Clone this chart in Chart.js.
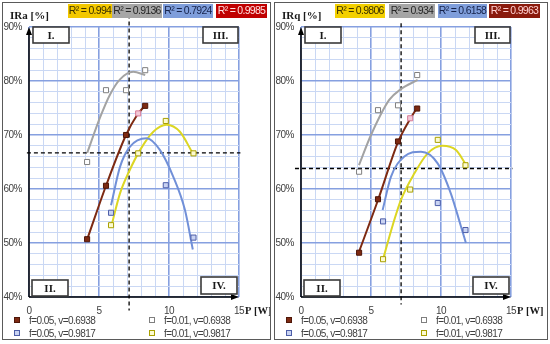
<!DOCTYPE html>
<html>
<head>
<meta charset="utf-8">
<script src="https://cdn.jsdelivr.net/npm/chart.js@4.4.1/dist/chart.umd.min.js"></script>
<style>
  html, body { margin: 0; padding: 0; background: #fff; }
  body { width: 550px; height: 344px; position: relative; overflow: hidden; }
  .panel { position: absolute; top: 2px; height: 336px; border: 1px solid #5a5a5a; }
  #left { left: 2px; width: 267px; }
  #right { left: 274px; width: 272px; }
  canvas { display: block; }
</style>
</head>
<body>
<div class="panel" id="left"><canvas id="chartIRa" width="267" height="336"></canvas></div>
<div class="panel" id="right"><canvas id="chartIRq" width="272" height="336"></canvas></div>
<script>
// P [W] of the measurement points
const pLowV = [4.15, 5.5, 6.93, 8.3];      // v=0.6938
const pHighV = [5.86, 7.8, 9.77, 11.75];   // v=0.9817
const pExtra = [7.8];

// IRa [%] measured
const iraRed = [50.7, 60.6, 70.0, 75.4];
const iraGray = [65.0, 78.3, 78.3, 82.0];
const iraBlue = [55.6, null, 60.7, 51.0];
const iraYellow = [53.3, 66.6, 72.6, 66.6];
const iraExtra = [74.0];

// IRq [%] measured
const irqRed = [48.2, 58.1, 68.8, 74.9];
const irqGray = [63.2, 74.6, 75.5, 81.1];
const irqBlue = [54.0, null, 57.4, 52.4];
const irqYellow = [47.0, 59.9, 69.1, 64.4];
const irqExtra = [73.1];

// trend curves [P, value]
const traRed = [[4.16, 50.7], [5.5, 60.6], [6.93, 70.0], [7.7, 73.6], [8.3, 75.5]];
const traGray = [[4.16, 66.7], [5.07, 73.2], [5.79, 77.5], [6.5, 80.3], [7.45, 81.7], [8.3, 81.1]];
const traBlue = [[5.86, 57.0], [6.5, 64.1], [7.2, 67.8], [8.4, 69.4], [9.36, 67.2], [10.3, 62.3], [11.14, 56.1], [11.7, 48.8]];
const traYellow = [[5.9, 53.3], [6.5, 59.2], [7.14, 63.2], [7.93, 67.2], [8.88, 70.6], [9.83, 71.9], [10.78, 70.6], [11.7, 66.6]];

const trqRed = [[4.12, 48.2], [5.52, 58.1], [6.95, 68.8], [7.8, 73.0], [8.29, 75.0]];
const trqGray = [[4.14, 64.4], [5.0, 70.0], [6.3, 76.5], [7.14, 78.5], [8.33, 80.2]];
const trqBlue = [[5.83, 56.1], [6.43, 62.3], [7.38, 66.0], [8.57, 66.9], [9.76, 64.75], [10.7, 59.2], [11.4, 53.3], [11.78, 50.0]];
const trqYellow = [[5.86, 47.0], [6.55, 53.3], [7.14, 58.0], [8.1, 62.9], [9.05, 66.6], [10.1, 68.0], [11.07, 67.2], [11.74, 64.7]];

// dashed reference lines
const pOpt = 7.15;
const iraRef = 66.7;
const irqRef = 63.8;

// R2 labels
const r2Ira = ['0.994', '0.9136', '0.7924', '0.9985'];
const r2Irq = ['0.9806', '0.934', '0.6158', '0.9963'];

const legendLabels = ['f=0.05, v=0.6938', 'f=0.01, v=0.6938', 'f=0.05, v=0.9817', 'f=0.01, v=0.9817'];
const quadrants = ['I.', 'II.', 'III.', 'IV.'];
const xTicks = [0, 5, 10, 15];

const SANS = "'Liberation Sans', Arial, sans-serif";
const SERIF = "'Liberation Serif', 'DejaVu Serif', serif";

const RED = '#7d2a12', GRAY = '#a3a3a3', BLUE = '#7190d8', YEL = '#dcd623';

const markerStyles = [
    { bg: '#7d2a12', border: '#4e1608' },
    { bg: '#ffffff', border: '#7f7f7f' },
    { bg: '#c9d3f2', border: '#4d5ea8' },
    { bg: '#fdfbd0', border: '#a9a000' }
];

function pts(xs, ys) {
    const out = [];
    xs.forEach(function(x, i) { if (ys[i] !== null) out.push({ x: x, y: ys[i] }); });
    return out;
}
function pairs(arr) {
    return arr.map(function(p) { return { x: p[0], y: p[1] }; });
}

const decoPlugin = {
    id: 'panelDeco',
    beforeDraw(chart) {
        // narrower text, closer to the original Calibri look
        chart.ctx.letterSpacing = '-0.5px';
    },
    afterDatasetsDraw(chart, args, o) {
        const ctx = chart.ctx;
        const a = chart.chartArea;
        ctx.save();

        // axes with arrows
        ctx.strokeStyle = '#000';
        ctx.fillStyle = '#000';
        ctx.lineWidth = 1.5;
        ctx.beginPath();
        ctx.moveTo(a.left, a.bottom); ctx.lineTo(a.left, a.top + 6);
        ctx.moveTo(a.left, a.bottom); ctx.lineTo(a.right - 6, a.bottom);
        ctx.stroke();
        ctx.beginPath();
        ctx.moveTo(a.left, a.top); ctx.lineTo(a.left - 3, a.top + 8); ctx.lineTo(a.left + 3, a.top + 8);
        ctx.closePath(); ctx.fill();
        ctx.beginPath();
        ctx.moveTo(a.right, a.bottom); ctx.lineTo(a.right - 8, a.bottom - 3); ctx.lineTo(a.right - 8, a.bottom + 3);
        ctx.closePath(); ctx.fill();

        // quadrant boxes
        const qb = [
            [a.left + 4, a.top, 36, 16],
            [a.left + 3, a.bottom - 17, 36, 16],
            [a.right - 36, a.top, 35, 16],
            [a.right - 38, a.bottom - 20, 36, 17]
        ];
        ctx.letterSpacing = '0px';
        ctx.font = 'bold 11px ' + SERIF;
        ctx.textAlign = 'center';
        ctx.textBaseline = 'middle';
        qb.forEach(function(b, i) {
            ctx.fillStyle = '#fff';
            ctx.fillRect(b[0], b[1], b[2], b[3]);
            ctx.strokeStyle = '#3a3a3a';
            ctx.lineWidth = 1.6;
            ctx.strokeRect(b[0], b[1], b[2], b[3]);
            ctx.fillStyle = '#1a1a1a';
            ctx.fillText(quadrants[i], b[0] + b[2] / 2, b[1] + b[3] / 2 + 1);
        });

        // axis titles
        ctx.textAlign = 'left';
        ctx.font = 'bold 11px ' + SERIF;
        ctx.fillStyle = '#1a1a1a';
        ctx.fillText(o.yTitle, 7, 13);
        ctx.font = 'bold 10.5px ' + SERIF;
        ctx.fillText('P [W]', a.right + 6, a.bottom + 14);

        // R2 boxes
        ctx.letterSpacing = '-0.7px';
        ctx.font = '10.5px ' + SANS;
        ctx.textAlign = 'center';
        o.r2Boxes.forEach(function(b, i) {
            ctx.fillStyle = b.bg;
            ctx.fillRect(b.x, 1, b.w, 14);
            ctx.fillStyle = b.fg;
            ctx.fillText('R\u00B2 = ' + o.r2[i], b.x + b.w / 2, 8.5);
        });

        // legend
        ctx.letterSpacing = '-0.55px';
        ctx.font = '10px ' + SANS;
        ctx.textAlign = 'left';
        const cols = [a.left - 12, a.left + 123];
        const rows = [a.bottom + 23, a.bottom + 36];
        const order = [[0, 0, 0], [1, 1, 0], [2, 0, 1], [3, 1, 1]];
        order.forEach(function(it) {
            const m = markerStyles[it[0]];
            const mx = cols[it[1]], my = rows[it[2]];
            ctx.fillStyle = m.bg;
            ctx.fillRect(mx - 2.5, my - 2.5, 5, 5);
            ctx.strokeStyle = m.border;
            ctx.lineWidth = 1;
            ctx.strokeRect(mx - 2.5, my - 2.5, 5, 5);
            ctx.fillStyle = '#404040';
            ctx.fillText(legendLabels[it[0]], mx + 12, my + 1);
        });
        ctx.restore();
    }
};

function makePanel(id, cfg) {
    const canvas = document.getElementById(id);
    const marker = function(data, k, ord) {
        return {
            data: data, showLine: false, order: ord,
            pointStyle: 'rect', pointRadius: 3.6, pointHoverRadius: 3.6,
            pointBackgroundColor: markerStyles[k].bg, pointBorderColor: markerStyles[k].border,
            pointBorderWidth: 1
        };
    };
    const trend = function(data, color) {
        return {
            data: data, showLine: true, order: 2, borderColor: color, borderWidth: 2,
            pointRadius: 0, cubicInterpolationMode: 'monotone'
        };
    };
    const dashed = function(data) {
        return {
            data: data, showLine: true, order: 3, borderColor: '#000', borderWidth: 1.3,
            borderDash: [4, 3], pointRadius: 0, clip: false
        };
    };
    return new Chart(canvas, {
        type: 'scatter',
        data: {
            datasets: [
                marker(pts(pLowV, cfg.red), 0, 0),
                marker(pts(pLowV, cfg.gray), 1, 0),
                marker(pts(pHighV, cfg.blue), 2, 0),
                marker(pts(pHighV, cfg.yellow), 3, 0),
                {
                    data: pts(pExtra, cfg.extra), showLine: false, order: 0,
                    pointStyle: 'rect', pointRadius: 3.6, pointBackgroundColor: '#f3c9d6',
                    pointBorderColor: '#d77a97', pointBorderWidth: 1
                },
                trend(pairs(cfg.tRed), RED),
                trend(pairs(cfg.tGray), GRAY),
                trend(pairs(cfg.tBlue), BLUE),
                trend(pairs(cfg.tYellow), YEL),
                dashed([{ x: pOpt, y: cfg.vTop }, { x: pOpt, y: cfg.vBottom }]),
                dashed([{ x: cfg.hLeft, y: cfg.ref }, { x: 15.1, y: cfg.ref }])
            ]
        },
        options: {
            responsive: false,
            animation: false,
            events: [],
            layout: { padding: { top: 24, right: canvas.width - 236, left: 0, bottom: 0 } },
            plugins: {
                legend: { display: false },
                tooltip: { enabled: false },
                panelDeco: { yTitle: cfg.yTitle, r2: cfg.r2, r2Boxes: cfg.r2Boxes }
            },
            scales: {
                x: {
                    type: 'linear', min: 0, max: 15,
                    afterFit: function(s) { s.height = 42; },
                    afterBuildTicks: function(s) {
                        s.ticks = [];
                        for (let v = 0; v <= 15; v++) s.ticks.push({ value: v });
                    },
                    ticks: {
                        autoSkip: false, maxRotation: 0, padding: 8, color: '#404040',
                        font: { family: SANS, size: 10 },
                        callback: function(v) { return xTicks.indexOf(v) >= 0 ? String(v) : ''; }
                    },
                    grid: {
                        drawTicks: false,
                        color: function(c) { return c.tick && c.tick.value % 5 === 0 ? '#86a0e0' : '#cad8f4'; },
                        lineWidth: function(c) { return c.tick && c.tick.value % 5 === 0 ? 1.6 : 1; }
                    },
                    border: { display: false }
                },
                y: {
                    type: 'linear', min: 40, max: 90,
                    afterFit: function(s) { s.width = 26; },
                    afterBuildTicks: function(s) {
                        s.ticks = [];
                        for (let v = 40; v <= 90; v += 2) s.ticks.push({ value: v });
                    },
                    ticks: {
                        autoSkip: false, padding: 7, color: '#404040',
                        font: { family: SANS, size: 10 },
                        callback: function(v) { return v % 10 === 0 ? v + '%' : ''; }
                    },
                    grid: {
                        drawTicks: false,
                        color: function(c) { return c.tick && c.tick.value % 10 === 0 ? '#86a0e0' : '#cad8f4'; },
                        lineWidth: function(c) { return c.tick && c.tick.value % 10 === 0 ? 1.6 : 1; }
                    },
                    border: { display: false }
                }
            }
        },
        plugins: [decoPlugin]
    });
}

makePanel('chartIRa', {
    red: iraRed, gray: iraGray, blue: iraBlue, yellow: iraYellow, extra: iraExtra,
    tRed: traRed, tGray: traGray, tBlue: traBlue, tYellow: traYellow,
    ref: iraRef, hLeft: -0.15, vTop: 92.3, vBottom: 37.5,
    yTitle: 'IRa [%]', r2: r2Ira,
    r2Boxes: [
        { x: 65, w: 44, bg: '#f3c800', fg: '#3b3000' },
        { x: 109, w: 50, bg: '#a6a6a6', fg: '#262626' },
        { x: 160, w: 50, bg: '#7f9edb', fg: '#15224a' },
        { x: 213, w: 51, bg: '#c00000', fg: '#ffe0e0' }
    ]
});

makePanel('chartIRq', {
    red: irqRed, gray: irqGray, blue: irqBlue, yellow: irqYellow, extra: irqExtra,
    tRed: trqRed, tGray: trqGray, tBlue: trqBlue, tYellow: trqYellow,
    ref: irqRef, hLeft: -0.43, vTop: 90.7, vBottom: 38.6,
    yTitle: 'IRq [%]', r2: r2Irq,
    r2Boxes: [
        { x: 60, w: 50, bg: '#f3d000', fg: '#3b3000' },
        { x: 114, w: 46, bg: '#a6a6a6', fg: '#262626' },
        { x: 163, w: 49, bg: '#7f9edb', fg: '#15224a' },
        { x: 214, w: 51, bg: '#8a1a0c', fg: '#ffd0d0' }
    ]
});
</script>
</body>
</html>
